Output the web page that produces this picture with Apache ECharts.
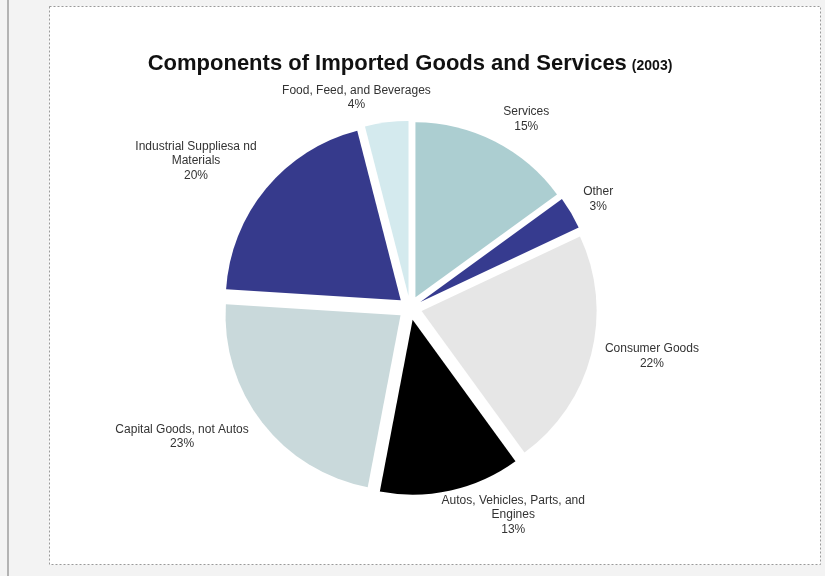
<!DOCTYPE html>
<html>
<head>
<meta charset="utf-8">
<style>
  html, body { margin: 0; padding: 0; background: #f3f3f3; }
  #chart { width: 825px; height: 576px; }
</style>
<script src="https://cdn.jsdelivr.net/npm/echarts@6/dist/echarts.min.js"></script>
</head>
<body>
<div id="chart"></div>
<script>
// Shares of 2003 imports, clockwise from twelve o'clock
const categories = [
  'Services',
  'Other',
  'Consumer Goods',
  'Autos, Vehicles, Parts, and\nEngines',
  'Capital Goods, not Autos',
  'Industrial Suppliesa nd\nMaterials',
  'Food, Feed, and Beverages'
];
const shares = [15, 3, 22, 13, 23, 20, 4];
const sliceColors = ['#acced1', '#363b8f', '#e6e6e6', '#000000', '#c9d9db', '#363a8c', '#d4eaee'];

// Pie geometry (pixels)
const CX = 410, CY = 308, RADIUS = 175, EXPLODE = 12;
// Callout placement: distance out along each slice's bisector, then sideways outward
const calloutOut = [25, 27, 6, 25, 23, 44, 25];
const calloutSide = [20, 4, 55, 57, 62, 36, 27];

const chart = echarts.init(document.getElementById('chart'), null, { renderer: 'canvas' });

chart.setOption({
  backgroundColor: '#f3f3f3',
  animation: false,
  graphic: [
    { type: 'rect', shape: { x: 7, y: 0, width: 2, height: 576 }, style: { fill: '#b3b3b3' }, silent: true },
    { type: 'rect', shape: { x: 49.5, y: 6.5, width: 771, height: 558 },
      style: { fill: '#ffffff', stroke: '#9a9a9a', lineWidth: 1, lineDash: [2, 2] }, silent: true, z: -1 }
  ],
  title: {
    text: '{main|Components of Imported Goods and Services} {year|(2003)}',
    left: 405,
    top: 48,
    textAlign: 'center',
    textStyle: {
      rich: {
        main: { fontFamily: 'Liberation Sans, Arial, sans-serif', fontWeight: 'bold', fontSize: 22, color: '#111' },
        year: { fontFamily: 'Liberation Sans, Arial, sans-serif', fontWeight: 'bold', fontSize: 14, color: '#111', padding: [4, 0, 0, 0] }
      }
    }
  },
  series: [{
    type: 'pie',
    center: [CX, CY],
    radius: [0, RADIUS],
    startAngle: 90,
    clockwise: true,
    selectedMode: 'multiple',
    selectedOffset: EXPLODE,
    emphasis: { disabled: true },
    itemStyle: { borderWidth: 0 },
    label: {
      show: true,
      position: 'outside',
      formatter: '{b}\n{c}%',
      fontFamily: 'Liberation Sans, Arial, sans-serif',
      fontSize: 12,
      lineHeight: 14.5,
      color: '#333',
      align: 'center',
      distanceToLabelLine: 0
    },
    labelLine: { show: false },
    labelLayout: function () {
      return { align: 'center', verticalAlign: 'middle' };
    },
    data: categories.map((name, i) => ({
      name: name,
      value: shares[i],
      selected: true,
      itemStyle: { color: sliceColors[i] },
      labelLine: { show: false, length: calloutOut[i], length2: calloutSide[i] }
    }))
  }]
});
</script>
</body>
</html>
